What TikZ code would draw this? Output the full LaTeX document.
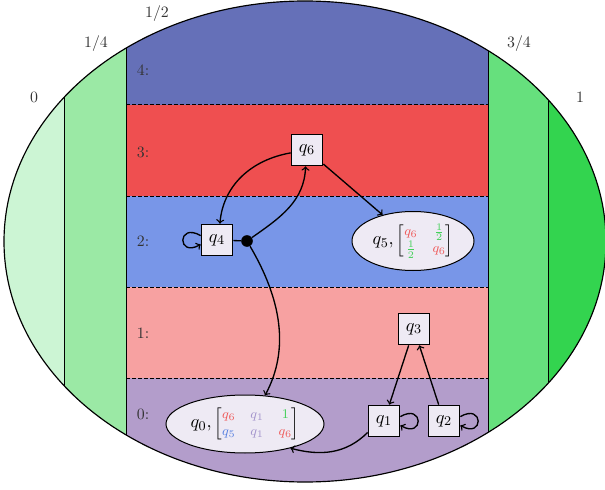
\documentclass[tikz,border=0pt]{standalone}
\usepackage{amsmath}
\usetikzlibrary{shapes.geometric}
\definecolor{bandA}{HTML}{CCF5D4}
\definecolor{bandB}{HTML}{9BE9A5}
\definecolor{bandC}{HTML}{66E07D}
\definecolor{bandD}{HTML}{33D44F}
\definecolor{layerF}{HTML}{6570B8}
\definecolor{layerT}{HTML}{EF4F50}
\definecolor{layerW}{HTML}{7896E8}
\definecolor{layerO}{HTML}{F7A1A1}
\definecolor{layerZ}{HTML}{B39DCB}
\definecolor{nodefill}{HTML}{EEEAF4}
\definecolor{mred}{HTML}{EF5A5A}
\definecolor{mpurple}{HTML}{A394CC}
\definecolor{mblue}{HTML}{5A82E0}
\definecolor{mgreen}{HTML}{44D05A}
\newcommand{\mymat}[1]{{\fontsize{8}{10}\selectfont\setlength{\arraycolsep}{4.5pt}$\begin{bmatrix}#1\end{bmatrix}$}}
\begin{document}
\begin{tikzpicture}[x=0.6pt,y=0.6pt,
  font=\fontsize{9.5}{11}\selectfont,
  qbox/.style={draw, line width=0.6pt, fill=nodefill, minimum size=19pt, inner sep=0pt, font=\fontsize{11}{13}\selectfont},
  qell/.style={ellipse, draw, line width=0.6pt, fill=nodefill, inner sep=0pt, font=\fontsize{11}{13}\selectfont},
  edge/.style={->, line width=0.8pt},
  lbl/.style={text=black!80},
  sep/.style={line width=0.6pt, dash pattern=on 2.2pt off 1.4pt},
  vline/.style={line width=0.5pt}]
\useasboundingbox (0,0) rectangle (605,489);
\begin{scope}
  \clip (305,247.5) ellipse [x radius=180.6pt, y radius=144.3pt];
  \fill[bandA] (0,0) rectangle (64,489);
  \fill[bandB] (64,0) rectangle (126,489);
  \fill[layerZ] (126,0) rectangle (488,111);
  \fill[layerO] (126,111) rectangle (488,202);
  \fill[layerW] (126,202) rectangle (488,293);
  \fill[layerT] (126,293) rectangle (488,384);
  \fill[layerF] (126,384) rectangle (488,489);
  \fill[bandC] (488,0) rectangle (548,489);
  \fill[bandD] (548,0) rectangle (612,489);
  \draw[vline] (64,0) -- (64,489);
  \draw[vline] (126,0) -- (126,489);
  \draw[vline] (488,0) -- (488,489);
  \draw[vline] (548,0) -- (548,489);
  \draw[sep] (126,111) -- (488,111);
  \draw[sep] (126,202) -- (488,202);
  \draw[sep] (126,293) -- (488,293);
  \draw[sep] (126,384) -- (488,384);
\end{scope}
\draw[line width=0.7pt] (305,247.5) ellipse [x radius=180.6pt, y radius=144.3pt];

% band labels
\node[lbl] (b0) at (34,392) {0};
\node[lbl] (b1) at (96,445) {1/4};
\node[lbl] (b2) at (157,475) {1/2};
\node[lbl] (b3) at (519,445) {3/4};
\node[lbl] (b4) at (580,392) {1};
% layer labels
\node[lbl] (l4) at (143,419) {4:};
\node[lbl] (l3) at (143,337) {3:};
\node[lbl] (l2) at (143,248) {2:};
\node[lbl] (l1) at (143,156) {1:};
\node[lbl] (l0) at (143,75) {0:};

% nodes
\node[qbox] (q6) at (307,339) {$q_6$};
\node[qbox] (q4) at (217,249) {$q_4$};
\node[circle, fill=black, inner sep=0pt, minimum size=7pt] (dot) at (247,248) {};
\node[qell, minimum width=73.2pt, minimum height=35.4pt] (q5) at (413,248)
  {$q_5,$\,\mymat{\color{mred}q_6 & \color{mgreen}\frac{1}{2}\\ \color{mgreen}\frac{1}{2} & \color{mred}q_6}};
\node[qbox] (q3) at (414,160) {$q_3$};
\node[qbox] (q1) at (384,68) {$q_1$};
\node[qbox] (q2) at (444,68) {$q_2$};
\node[qell, minimum width=94.8pt, minimum height=34.8pt] (q0) at (245,65)
  {$q_0,$\,\mymat{\color{mred}q_6 & \color{mpurple}q_1 & \color{mgreen}1\\ \color{mblue}q_5 & \color{mpurple}q_1 & \color{mred}q_6}};

% edges
\draw[edge] (q6.190) to[out=190,in=85] (q4.80);
\draw[edge] (dot) to[out=35,in=268] (q6.-95);
\draw[edge] (q6) -- (q5);
\draw[line width=0.8pt] (q4) -- (dot);
\draw[edge] (dot) .. controls (281,190) and (290,140) .. (q0.55);
\draw[edge] (q4.165) to[out=150,in=210,looseness=8] (q4.195);
\draw[edge] (q3) -- (q1);
\draw[edge] (q2) -- (q3);
\draw[edge] (q1.15) to[out=30,in=-30,looseness=8] (q1.-15);
\draw[edge] (q2.15) to[out=30,in=-30,looseness=8] (q2.-15);
\draw[edge] (q1.215) to[out=225,in=-15] (q0.-28);
\end{tikzpicture}
\end{document}
